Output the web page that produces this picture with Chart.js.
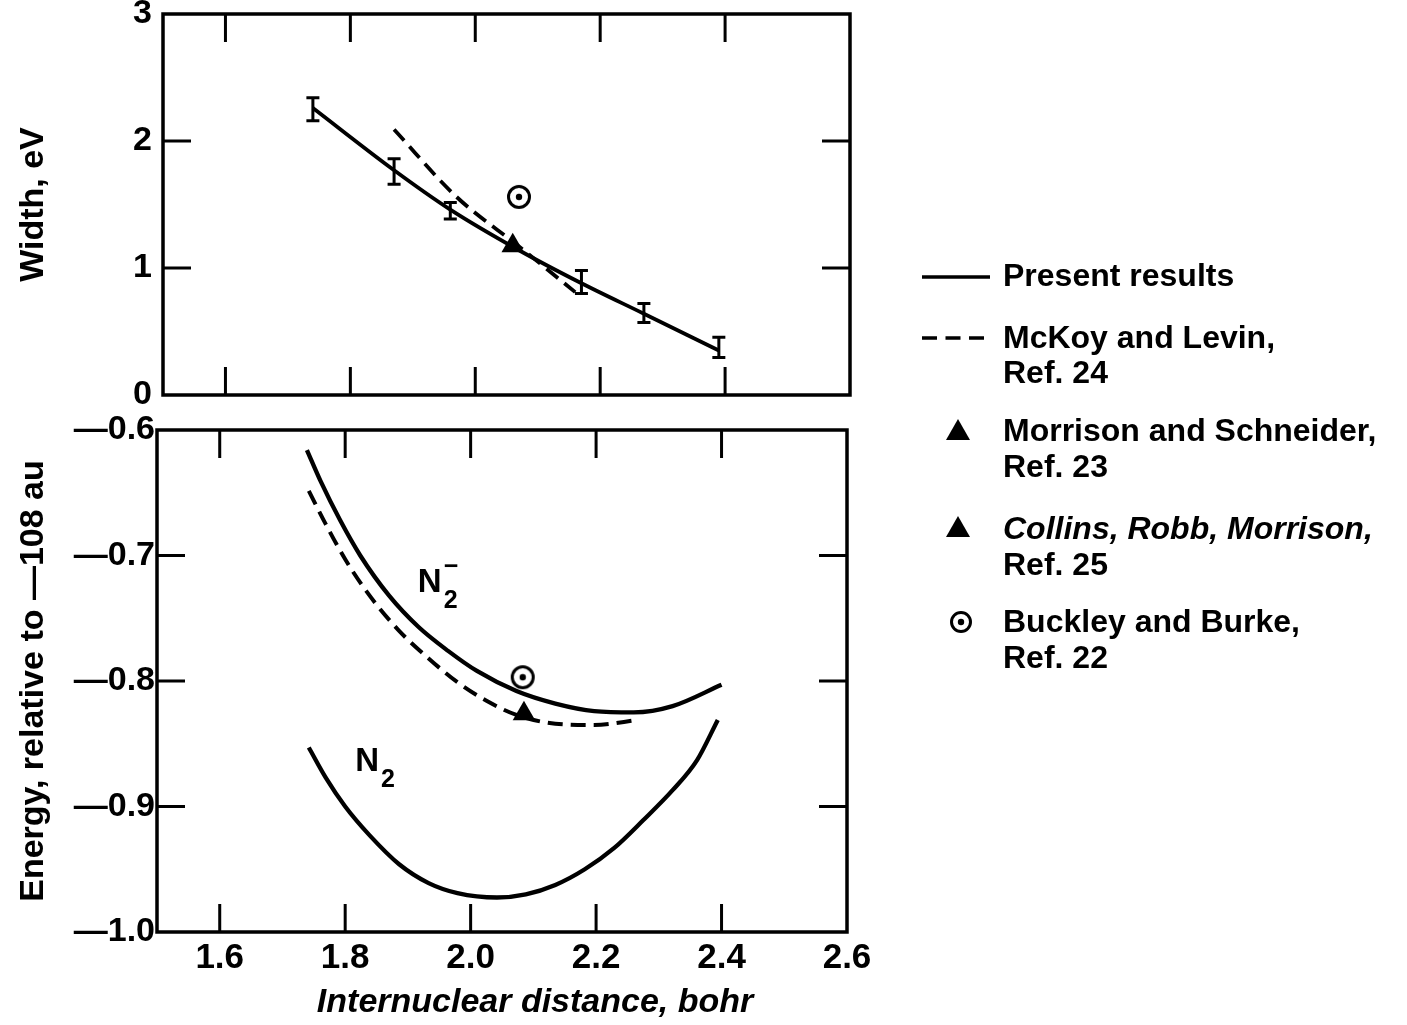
<!DOCTYPE html>
<html><head><meta charset="utf-8">
<script src="https://cdn.jsdelivr.net/npm/chart.js@4.4.1/dist/chart.umd.min.js"></script>
<style>
html,body{margin:0;padding:0;background:#fff;width:1407px;height:1025px;overflow:hidden;position:relative}
#c1{position:absolute;left:0;top:-20px}
#c2{position:absolute;left:0;top:400px}
#legend{position:absolute;left:0;top:0;width:1407px;height:1025px;font-family:'Liberation Sans',Arial,sans-serif;font-weight:bold;font-size:32px;color:#000}
.lt{position:absolute;left:1003px;line-height:1;white-space:nowrap;transform:translateY(-50%)}
#legend svg{position:absolute;left:0;top:0}
</style></head><body>
<canvas id="c1" width="900" height="460"></canvas>
<canvas id="c2" width="900" height="625"></canvas>
<div id="legend"></div>
<script>
// ---------- data ----------
// Top panel: resonance width (eV) vs internuclear distance (bohr)
const widthX      = [1.74, 1.87, 1.96, 2.17, 2.27, 2.39];
const widthY      = [2.25, 1.76, 1.45, 0.89, 0.645, 0.375];
const widthErr    = [0.09, 0.10, 0.065, 0.09, 0.075, 0.08];
const widthLineX  = [1.74, 1.87, 1.96, 2.07, 2.17, 2.27, 2.39];
const widthLineY  = [2.26, 1.77, 1.46, 1.14, 0.88, 0.64, 0.35];
const mckoyWX     = [1.87, 1.97, 2.07, 2.16];
const mckoyWY     = [2.09, 1.56, 1.17, 0.81];
const morrisonWX  = [2.06];
const morrisonWY  = [1.175];
const buckleyWX   = [2.07];
const buckleyWY   = [1.56];

// Bottom panel: energy relative to -108 au
const n2MinusX = [1.739,1.761,1.792,1.824,1.870,1.917,1.964,2.010,2.073,2.135,2.197,2.260,2.322,2.400];
const n2MinusY = [-0.616,-0.641,-0.672,-0.700,-0.732,-0.757,-0.776,-0.792,-0.808,-0.818,-0.824,-0.825,-0.820,-0.803];
const mckoyEX  = [1.742,1.769,1.800,1.839,1.886,1.933,1.979,2.026,2.073,2.135,2.197,2.268];
const mckoyEY  = [-0.6485,-0.675,-0.703,-0.732,-0.760,-0.782,-0.801,-0.816,-0.827,-0.834,-0.835,-0.831];
const n2X      = [1.742,1.769,1.800,1.839,1.886,1.933,1.979,2.042,2.088,2.135,2.182,2.229,2.275,2.322,2.361,2.394];
const n2Y      = [-0.853,-0.877,-0.900,-0.923,-0.946,-0.961,-0.969,-0.9725,-0.970,-0.9625,-0.950,-0.933,-0.911,-0.887,-0.863,-0.831];
const collinsEX = [2.085];
const collinsEY = [-0.826];
const buckleyEX = [2.083];
const buckleyEY = [-0.797];

// ticks
const xTickLabels   = [1.6, 1.8, 2.0, 2.2, 2.4, 2.6];
const xMarkTicks    = [1.6, 1.8, 2.0, 2.2, 2.4];
const yTicksTop     = [0, 1, 2, 3];
const yMarkTop      = [1, 2];
const yTicksBottom  = [-1.0, -0.9, -0.8, -0.7, -0.6];
const yMarkBottom   = [-0.9, -0.8, -0.7];

// text
const xTitle = 'Internuclear distance, bohr';
const yTitleTop = 'Width, eV';
const yTitleBottom = 'Energy, relative to \u2014108 au';
const legendNames = ['Present results', 'McKoy and Levin,', 'Ref. 24', 'Morrison and Schneider,', 'Ref. 23',
                     'Collins, Robb, Morrison,', 'Ref. 25', 'Buckley and Burke,', 'Ref. 22'];
const curveLabels = [
  {base: 'N', sub: '2', sup: '\u2212', x: 1.935, y: -0.7195},
  {base: 'N', sub: '2', sup: '',       x: 1.835, y: -0.8625}
];

// ---------- helpers ----------
const FONT = "'Liberation Sans', Arial, sans-serif";
Chart.defaults.font.family = FONT;
Chart.defaults.font.weight = 'bold';
Chart.defaults.color = '#000';
const pts = (xs, ys) => xs.map((x, i) => ({x, y: ys[i]}));

function ringDot() {
  const c = document.createElement('canvas');
  c.width = 28; c.height = 28;
  const g = c.getContext('2d');
  g.strokeStyle = '#000'; g.fillStyle = '#000'; g.lineWidth = 3;
  g.beginPath(); g.arc(14, 14, 10.5, 0, 2 * Math.PI); g.stroke();
  g.beginPath(); g.arc(14, 14, 3.2, 0, 2 * Math.PI); g.fill();
  return c;
}
const RING = ringDot();

const framePlugin = {
  id: 'frameTicks',
  afterDatasetsDraw(chart, args, opts) {
    const {ctx, chartArea: a, scales: {x, y}} = chart;
    ctx.save();
    ctx.strokeStyle = '#000';
    ctx.fillStyle = '#000';
    ctx.lineCap = 'butt';
    if (opts.err) {
      ctx.lineWidth = 3;
      opts.err.x.forEach((xv, i) => {
        const px = x.getPixelForValue(xv);
        const p1 = y.getPixelForValue(opts.err.y[i] - opts.err.e[i]);
        const p2 = y.getPixelForValue(opts.err.y[i] + opts.err.e[i]);
        ctx.beginPath();
        ctx.moveTo(px, p1); ctx.lineTo(px, p2);
        ctx.moveTo(px - 6.5, p1); ctx.lineTo(px + 6.5, p1);
        ctx.moveTo(px - 6.5, p2); ctx.lineTo(px + 6.5, p2);
        ctx.stroke();
      });
    }
    ctx.lineWidth = 3.5;
    ctx.strokeRect(a.left, a.top, a.right - a.left, a.bottom - a.top);
    const L = 28;
    ctx.lineWidth = 3;
    ctx.beginPath();
    opts.xMarks.forEach(v => {
      const px = x.getPixelForValue(v);
      ctx.moveTo(px, a.top); ctx.lineTo(px, a.top + L);
      ctx.moveTo(px, a.bottom); ctx.lineTo(px, a.bottom - L);
    });
    opts.yMarks.forEach(v => {
      const py = y.getPixelForValue(v);
      ctx.moveTo(a.left, py); ctx.lineTo(a.left + L, py);
      ctx.moveTo(a.right, py); ctx.lineTo(a.right - L, py);
    });
    ctx.stroke();
    (opts.labels || []).forEach(l => {
      const px = x.getPixelForValue(l.x);
      const py = y.getPixelForValue(l.y);
      ctx.textBaseline = 'alphabetic';
      ctx.textAlign = 'left';
      ctx.font = 'bold 33px ' + FONT;
      ctx.fillText(l.base, px - 12, py + 12);
      const w = ctx.measureText(l.base).width;
      ctx.font = 'bold 25px ' + FONT;
      ctx.fillText(l.sub, px - 12 + w + 2, py + 28);
      if (l.sup) ctx.fillText(l.sup, px - 12 + w + 2, py - 6);
    });
    ctx.restore();
  }
};

function yScale(min, max, ticks, fmt, title, width, pad) {
  return {
    type: 'linear', min, max,
    afterBuildTicks: s => { s.ticks = ticks.map(v => ({value: v})); },
    afterFit: s => { s.width = width; },
    grid: {display: false, drawTicks: false},
    border: {display: false},
    ticks: {font: {size: 34, weight: 'bold'}, padding: pad, callback: fmt},
    title: {display: true, text: title, font: {size: 34, weight: 'bold'}, padding: {top: 13, bottom: 0}}
  };
}

const lineDs = (label, xs, ys, w, dash) => ({label, data: pts(xs, ys), showLine: true, borderColor: '#000',
  borderWidth: w, borderDash: dash || [], pointRadius: 0, cubicInterpolationMode: 'monotone'});

// ---------- top chart ----------
new Chart(document.getElementById('c1'), {
  type: 'scatter',
  data: {
    datasets: [
      lineDs('Present results', widthLineX, widthLineY, 3.8),
      lineDs('McKoy and Levin', mckoyWX, mckoyWY, 3.8, [15, 8]),
      {label: 'Morrison and Schneider', data: pts(morrisonWX, morrisonWY), pointStyle: 'triangle',
       pointRadius: 13, backgroundColor: '#000', borderColor: '#000', borderWidth: 0},
      {label: 'Buckley and Burke', data: pts(buckleyWX, buckleyWY), pointStyle: RING, pointRadius: 12}
    ]
  },
  options: {
    responsive: false, animation: false, devicePixelRatio: 1,
    layout: {padding: {left: 0, right: 50, top: 34, bottom: 45}},
    plugins: {legend: {display: false}, tooltip: {enabled: false},
      frameTicks: {xMarks: xMarkTicks, yMarks: yMarkTop,
        err: {x: widthX, y: widthY, e: widthErr}}},
    scales: {
      x: {type: 'linear', min: 1.5, max: 2.6, afterFit: s => { s.height = 0; },
          grid: {display: false, drawTicks: false}, border: {display: false}, ticks: {display: false}},
      y: yScale(0, 3, yTicksTop, v => String(v), yTitleTop, 163, 11)
    }
  },
  plugins: [framePlugin]
});

// ---------- bottom chart ----------
new Chart(document.getElementById('c2'), {
  type: 'scatter',
  data: {
    datasets: [
      lineDs('Present results (N2-)', n2MinusX, n2MinusY, 4.3),
      lineDs('Present results (N2)', n2X, n2Y, 4.3),
      lineDs('McKoy and Levin', mckoyEX, mckoyEY, 4, [15, 8]),
      {label: 'Collins, Robb, Morrison', data: pts(collinsEX, collinsEY), pointStyle: 'triangle',
       pointRadius: 13, backgroundColor: '#000', borderColor: '#000', borderWidth: 0},
      {label: 'Buckley and Burke', data: pts(buckleyEX, buckleyEY), pointStyle: RING, pointRadius: 12}
    ]
  },
  options: {
    responsive: false, animation: false, devicePixelRatio: 1,
    layout: {padding: {left: 0, right: 53, top: 30, bottom: 0}},
    plugins: {legend: {display: false}, tooltip: {enabled: false},
      frameTicks: {xMarks: xMarkTicks, yMarks: yMarkBottom, labels: curveLabels}},
    scales: {
      x: {type: 'linear', min: 1.5, max: 2.6,
          afterBuildTicks: s => { s.ticks = xTickLabels.map(v => ({value: v})); },
          afterFit: s => { s.height = 93; },
          grid: {display: false, drawTicks: false}, border: {display: false},
          ticks: {font: {size: 35, weight: 'bold'}, padding: 5, maxRotation: 0, autoSkip: false,
                  callback: v => v.toFixed(1)},
          title: {display: true, text: '       ' + xTitle,
                  font: {size: 34, weight: 'bold', style: 'italic'}, padding: {top: 0, bottom: 2}}},
      y: yScale(-1.0, -0.6, yTicksBottom, v => '\u2014' + Math.abs(v).toFixed(1), yTitleBottom, 157, 2)
    }
  },
  plugins: [framePlugin]
});

// ---------- legend (HTML text) ----------
const legendRows = [
  {i: 0, y: 275}, {i: 1, y: 337}, {i: 2, y: 372}, {i: 3, y: 430}, {i: 4, y: 466},
  {i: 5, y: 528, italic: true}, {i: 6, y: 564}, {i: 7, y: 621}, {i: 8, y: 657}
];
const lg = document.getElementById('legend');
lg.innerHTML =
  '<svg width="1407" height="1025">' +
  '<line x1="922" y1="277" x2="990" y2="277" stroke="#000" stroke-width="3.5"/>' +
  '<line x1="922" y1="338" x2="992" y2="338" stroke="#000" stroke-width="3.5" stroke-dasharray="15 8.5"/>' +
  '<polygon points="958,419 970,440 946,440" fill="#000"/>' +
  '<polygon points="958,516 970,537 946,537" fill="#000"/>' +
  '<circle cx="961" cy="622" r="9.5" fill="none" stroke="#000" stroke-width="3"/>' +
  '<circle cx="961" cy="622" r="3.2" fill="#000"/>' +
  '</svg>';
legendRows.forEach(r => {
  const d = document.createElement('div');
  d.className = 'lt';
  d.style.top = r.y + 'px';
  if (r.italic) d.style.fontStyle = 'italic';
  d.textContent = legendNames[r.i];
  lg.appendChild(d);
});
</script>
</body></html>
